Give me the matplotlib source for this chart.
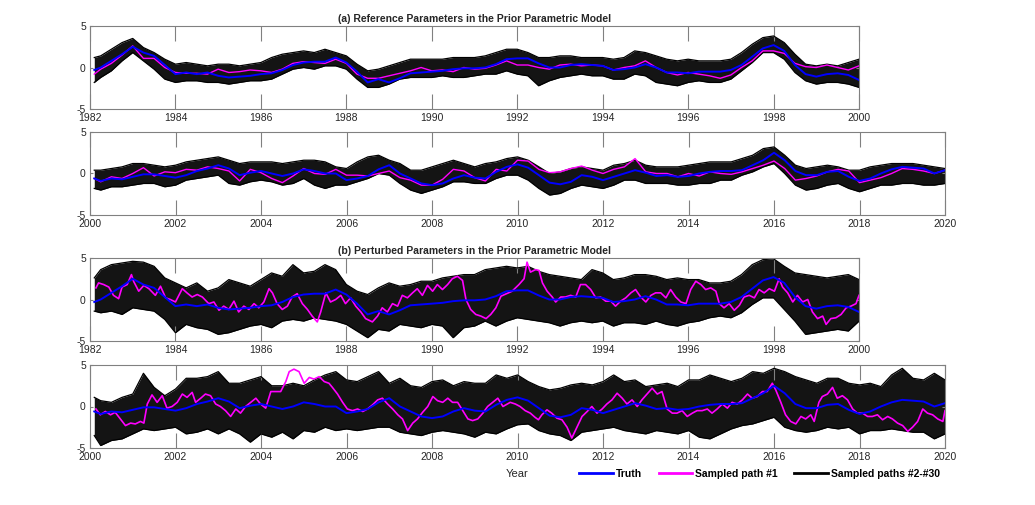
import numpy as np
import matplotlib
matplotlib.use("Agg")
import matplotlib.pyplot as plt
from matplotlib.lines import Line2D

plt.rcParams["font.family"] = ["Liberation Sans", "DejaVu Sans"]
plt.rcParams["axes.unicode_minus"] = False

# ---- time grids of the quarterly readings ----
t_q1 = np.r_[1982.1, np.arange(1982.25, 2000.001, 0.25)]
t_q2 = np.r_[2000.1, np.arange(2000.25, 2020.001, 0.25)]

# truth (same in both parts)
truth_1 = [-0.3, 0.0, 0.8, 1.6,   2.5, 1.8, 1.4, 0.3,   -0.8, -0.6, -0.8, -0.6,
           -1.0, -1.2, -1.1, -1.0, -0.8, -0.7, -0.3, 0.3,  0.6, 0.7, 0.7, 1.2,
           0.6, -0.5, -1.8, -1.4,  -1.8, -1.3, -0.7, -0.6, -0.5, -0.4, -0.2, -0.1,
           -0.1, 0.0, 0.4, 1.0,    1.1, 1.1, 0.5, 0.0,    0.0, 0.3, 0.4, 0.3,
           0.2, -0.3, -0.2, 0.0,   0.4, 0.0, -0.6, -0.6,  -0.7, -0.5, -0.5, -0.5,
           -0.3, 0.3, 1.3, 2.3,    2.7, 2.0, 0.3, -0.8,   -1.1, -0.8, -0.7, -0.9,
           -1.5]
truth_2 = [-0.6, -0.9, -0.6, -0.7, -0.4, -0.1, -0.1, -0.3, -0.5, -0.2, 0.3, 0.6,
           1.0, 0.6, -0.2, 0.1,    0.3, 0.0, -0.3, 0.0,    0.5, 0.3, 0.0, 0.0,
           -0.8, -0.6, -0.3, 0.5,  1.0, 0.0, -0.6, -1.2,  -1.4, -1.2, -0.6, -0.2,
           -0.5, -0.6, 0.2, 0.8,   1.1, 0.7, -0.2, -1.1,  -1.3, -1.0, -0.2, -0.4,
           -0.8, -0.4, 0.0, 0.4,   0.1, -0.3, -0.2, -0.4, -0.3, 0.0, 0.2, 0.3,
           0.3, 0.4, 1.0, 1.6,     2.5, 1.6, 0.3, -0.2,   -0.2, 0.2, 0.3, -0.4,
           -0.9, -0.6, 0.0, 0.5,   0.8, 0.7, 0.6, 0.0,    0.4]

# (a) sampled path #1
path1_a1 = [-0.8, -0.2, 0.5, 1.5,  2.6, 1.1, 1.1, 0.0,   -0.6, -0.7, -0.7, -0.8,
            -0.2, -0.6, -0.5, -0.3, -0.4, -0.6, -0.2, 0.5, 0.7, 0.6, 0.5, 1.0,
            0.5, -0.8, -1.3, -1.3, -1.0, -0.7, -0.4, 0.0, -0.4, -0.3, -0.5, 0.0,
            -0.2, -0.1, 0.3, 0.8,  0.3, 0.3, 0.0, -0.2,   0.3, 0.4, 0.2, 0.3,
            0.2, -0.3, 0.0, 0.2,   0.8, 0.0, -0.6, -0.9,  -0.6, -0.8, -1.0, -1.3,
            -0.9, 0.0, 0.8, 2.0,   2.0, 1.7, 0.5, 0.1,    0.0, 0.3, 0.0, -0.3,
            0.2]
path1_a2 = [-0.6, -1.0, -0.4, -0.6, 0.0, 0.7, -0.3, 0.2,  0.1, 0.5, 0.4, 0.8,
            0.6, 0.3, -0.9, 0.5,   0.1, -0.6, -1.1, -0.3, 0.6, 0.0, -0.1, 0.5,
            -0.2, -0.2, -0.3, 0.0, 0.3, -0.5, -0.8, -1.4, -1.4, -0.7, 0.5, 0.3,
            -0.5, -0.9, 0.5, 0.3,  1.6, 1.5, 0.5, 0.1,    0.2, 0.6, 0.9, 0.4,
            0.0, 0.5, 0.8, 1.8,    0.2, 0.0, 0.0, -0.4,   0.0, -0.3, 0.2, 0.0,
            -0.1, 0.2, 0.6, 1.0,   1.5, 0.6, -0.8, -0.6,  -0.3, 0.2, 0.5, 0.3,
            -1.1, -0.8, -0.5, 0.0, 0.6, 0.5, 0.3, 0.0,    0.4]

# (a) spread of sampled paths #2-#30 (upper / lower edge, quarterly)
hi_a1 = [1.2, 1.4, 2.2, 3.0,  3.5, 2.4, 1.8, 1.0,  0.4, 0.6, 0.4, 0.2,
         0.4, 0.4, 0.2, 0.4,  0.6, 1.2, 1.6, 1.8,  2.0, 1.8, 2.2, 1.8,
         1.4, 0.4, -0.4, -0.2, 0.2, 0.6, 1.0, 1.0, 1.0, 1.0, 1.2, 1.2,
         1.2, 1.4, 1.8, 2.2,  2.2, 1.8, 1.2, 1.2,  1.4, 1.4, 1.2, 1.2,
         1.2, 1.0, 1.2, 2.0,  1.8, 1.4, 1.0, 0.8,  1.0, 0.8, 0.8, 0.8,
         1.0, 1.8, 2.8, 3.6,  3.8, 3.0, 1.6, 0.4,  0.2, 0.4, 0.2, 0.6,
         1.0]
lo_a1 = [-1.8, -1.2, -0.4, 0.8, 1.8, 0.8, -0.2, -1.4, -1.8, -1.6, -1.6, -1.8,
         -1.8, -2.0, -1.8, -1.6, -1.6, -1.4, -0.8, -0.2, 0.0, -0.2, 0.2, 0.2,
         -0.2, -1.4, -2.4, -2.4, -2.0, -1.4, -1.2, -1.2, -1.2, -1.0, -1.2, -1.2,
         -1.0, -0.8, -0.8, -0.4, -0.8, -1.0, -2.2, -1.6, -1.2, -1.0, -0.8, -1.0,
         -1.0, -1.4, -1.4, -0.8, -1.0, -1.8, -2.0, -2.2, -1.8, -1.6, -1.8, -1.8,
         -1.4, -0.4, 0.6, 1.8,  1.8, 1.0, -0.6, -1.6, -2.0, -1.8, -1.8, -2.0,
         -2.4]
hi_a2 = [0.4, 0.4, 0.6, 0.8,  1.2, 1.2, 1.0, 0.8,  1.0, 1.4, 1.6, 1.8,
         2.0, 1.6, 1.2, 1.4,  1.4, 1.4, 1.2, 1.4,  1.6, 1.6, 1.4, 0.8,
         0.6, 1.4, 2.0, 2.2,  1.6, 1.2, 0.4, 0.4,  0.8, 1.2, 1.6, 1.2,
         0.8, 1.2, 1.4, 1.8,  2.0, 1.6, 0.8, 0.0,  0.2, 0.6, 0.8, 0.6,
         0.4, 1.0, 1.2, 1.6,  1.0, 0.8, 0.8, 0.8,  1.0, 1.2, 1.4, 1.4,
         1.4, 1.8, 2.2, 3.0,  3.2, 2.2, 1.0, 0.6,  0.8, 1.0, 0.8, 0.4,
         0.4, 0.8, 1.0, 1.2,  1.2, 1.2, 1.0, 0.8,  0.6]
lo_a2 = [-1.8, -2.0, -1.6, -1.6, -1.4, -1.2, -1.2, -1.6, -1.4, -0.8, -0.6, -0.4,
         -0.2, -1.2, -1.4, -1.0, -0.8, -1.0, -1.4, -1.2, -0.6, -1.4, -1.8, -1.4,
         -1.4, -1.0, -0.6, 0.0, -0.2, -1.2, -2.0, -2.4, -2.0, -1.6, -1.0, -1.0,
         -1.2, -1.2, -0.6, -0.2, -0.2, -0.8, -1.8, -2.6, -2.4, -1.8, -1.4, -1.6,
         -1.8, -1.4, -0.8, -0.8, -1.2, -1.2, -1.2, -1.4, -1.4, -1.2, -1.2, -0.8,
         -0.8, -0.2, 0.2, 0.8,  1.2, 0.0, -1.4, -2.0, -1.8, -1.4, -1.2, -1.8,
         -2.2, -1.8, -1.4, -1.4, -1.2, -1.2, -1.4, -1.4, -1.2]

# (b) sampled path #1
t_b1 = [1982.14, 1982.20, 1982.32, 1982.44, 1982.55, 1982.67, 1982.75, 1982.87,
        1982.97, 1983.02, 1983.14, 1983.26, 1983.38, 1983.53, 1983.65, 1983.77,
        1983.88, 1984.00, 1984.16, 1984.27, 1984.39, 1984.51, 1984.63, 1984.78,
        1984.90, 1985.02, 1985.13, 1985.25, 1985.37, 1985.48, 1985.60, 1985.72,
        1985.84, 1985.95, 1986.07, 1986.19, 1986.27, 1986.38, 1986.50, 1986.62,
        1986.73, 1986.85, 1986.97, 1987.09, 1987.20, 1987.32, 1987.40, 1987.52,
        1987.63, 1987.75, 1987.87, 1987.98, 1988.10, 1988.22, 1988.34, 1988.45,
        1988.61, 1988.73, 1988.84, 1988.96, 1989.08, 1989.20, 1989.31, 1989.43,
        1989.55, 1989.66, 1989.78, 1989.90, 1990.02, 1990.13, 1990.25, 1990.37,
        1990.48, 1990.60, 1990.72, 1990.80, 1990.91, 1991.03, 1991.15, 1991.27,
        1991.38, 1991.50, 1991.62, 1991.75, 1991.88, 1992.04, 1992.16, 1992.23,
        1992.31, 1992.43, 1992.51, 1992.59, 1992.70, 1992.82, 1992.90, 1993.02,
        1993.13, 1993.25, 1993.37, 1993.48, 1993.60, 1993.72, 1993.84, 1993.95,
        1994.07, 1994.19, 1994.30, 1994.42, 1994.54, 1994.66, 1994.77, 1994.89,
        1995.01, 1995.13, 1995.24, 1995.36, 1995.48, 1995.59, 1995.71, 1995.83,
        1995.95, 1996.06, 1996.18, 1996.30, 1996.41, 1996.53, 1996.65, 1996.73,
        1996.84, 1996.96, 1997.08, 1997.20, 1997.31, 1997.43, 1997.55, 1997.66,
        1997.78, 1997.90, 1998.02, 1998.13, 1998.21, 1998.33, 1998.45, 1998.56,
        1998.68, 1998.80, 1998.91, 1999.03, 1999.15, 1999.23, 1999.34, 1999.46,
        1999.58, 1999.70, 1999.81, 1999.93, 2000.00]
path1_b1 = [1.4, 2.0, 1.8, 1.5, 0.5, 0.1, 1.5, 1.8,
            3.0, 2.2, 1.0, 1.7, 1.3, 0.5, 1.6, 0.2,
            0.0, -0.3, 1.3, 0.8, 0.3, 0.6, 0.3, -0.5,
            -0.3, -1.3, -0.8, -1.2, -0.2, -1.5, -0.8, -1.2,
            -0.5, -1.0, -0.3, 1.3, 0.8, -0.5, -1.2, -0.8,
            0.3, 0.7, -0.5, -1.2, -2.0, -2.7, -1.5, 0.8,
            -0.3, 0.0, 0.5, -0.5, 0.2, -0.8, -1.5, -2.3,
            -2.7, -2.0, -1.0, -1.5, -0.5, -0.8, 0.5, 0.2,
            0.8, 1.3, 0.5, 1.7, 1.0, 1.8, 1.2, 1.8,
            2.5, 2.8, 2.3, 0.0, -1.2, -1.8, -2.0, -2.3,
            -1.8, -1.0, 0.4, 0.7, 1.0, 1.8, 2.5, 4.5,
            3.3, 3.6, 3.5, 2.0, 1.0, 0.3, -0.3, 0.3,
            0.3, 0.5, 0.3, 1.8, 1.8, 1.2, 0.2, 0.3,
            -0.2, -0.2, -0.8, -0.2, 0.2, 0.8, 1.2, 0.3,
            -0.3, 0.5, 0.8, 0.8, 0.2, 1.2, 0.3, -0.3,
            -0.5, 1.2, 2.2, 1.8, 1.2, 1.4, 1.0, -0.5,
            -1.0, -0.5, -1.3, -0.7, 0.3, 0.5, 0.2, 1.2,
            0.8, 1.3, 1.0, 2.5, 1.5, 0.8, -0.3, 0.5,
            -0.3, 0.0, -1.5, -2.3, -2.0, -3.0, -2.3, -2.2,
            -1.8, -1.0, -0.8, -0.5, 0.5]
t_b2 = [2000.14, 2000.24, 2000.36, 2000.48, 2000.59, 2000.71, 2000.83, 2000.95,
        2001.06, 2001.18, 2001.26, 2001.34, 2001.45, 2001.57, 2001.69, 2001.80,
        2001.92, 2002.04, 2002.16, 2002.27, 2002.39, 2002.47, 2002.59, 2002.70,
        2002.82, 2002.94, 2003.05, 2003.17, 2003.29, 2003.41, 2003.52, 2003.64,
        2003.76, 2003.88, 2003.99, 2004.11, 2004.23, 2004.34, 2004.46, 2004.58,
        2004.66, 2004.77, 2004.89, 2005.01, 2005.13, 2005.24, 2005.36, 2005.48,
        2005.59, 2005.67, 2005.79, 2005.91, 2006.02, 2006.14, 2006.26, 2006.38,
        2006.49, 2006.61, 2006.73, 2006.84, 2006.96, 2007.08, 2007.20, 2007.31,
        2007.43, 2007.55, 2007.66, 2007.78, 2007.90, 2008.02, 2008.13, 2008.25,
        2008.37, 2008.48, 2008.60, 2008.72, 2008.84, 2008.95, 2009.07, 2009.19,
        2009.30, 2009.42, 2009.54, 2009.66, 2009.83, 2009.95, 2010.06, 2010.18,
        2010.30, 2010.41, 2010.49, 2010.57, 2010.69, 2010.80, 2010.92, 2011.04,
        2011.16, 2011.27, 2011.39, 2011.51, 2011.63, 2011.74, 2011.86, 2011.98,
        2012.09, 2012.21, 2012.33, 2012.45, 2012.56, 2012.68, 2012.80, 2012.91,
        2013.03, 2013.15, 2013.27, 2013.38, 2013.50, 2013.62, 2013.73, 2013.85,
        2013.97, 2014.09, 2014.20, 2014.32, 2014.44, 2014.55, 2014.67, 2014.79,
        2014.91, 2015.02, 2015.14, 2015.26, 2015.38, 2015.49, 2015.61, 2015.73,
        2015.84, 2015.96, 2016.04, 2016.16, 2016.27, 2016.39, 2016.51, 2016.63,
        2016.74, 2016.86, 2016.94, 2017.05, 2017.13, 2017.25, 2017.37, 2017.48,
        2017.60, 2017.72, 2017.84, 2017.95, 2018.07, 2018.19, 2018.30, 2018.42,
        2018.54, 2018.66, 2018.77, 2018.89, 2019.01, 2019.13, 2019.24, 2019.36,
        2019.48, 2019.59, 2019.71, 2019.83, 2019.95, 2020.00]
path1_b2 = [-0.3, -1.0, -0.6, -1.0, -0.7, -1.5, -2.3, -2.0,
            -2.1, -1.8, -2.0, 0.3, 1.4, 0.5, 1.3, -0.2,
            0.0, 0.5, 1.5, 1.1, 1.7, 0.5, 1.0, 1.5,
            1.3, 0.3, 0.0, -0.5, -1.2, -0.3, -0.8, 0.0,
            0.5, 1.0, 0.3, -0.2, 1.8, 1.8, 1.8, 3.0,
            4.2, 4.5, 4.2, 2.8, 3.5, 3.3, 3.6, 3.0,
            2.8, 2.3, 1.5, 0.5, -0.3, -0.5, -0.3, -0.6,
            -0.3, 0.2, 0.8, 1.0, 0.3, -0.3, -1.0, -1.5,
            -2.9, -2.0, -1.5, -0.7, 0.0, 1.2, 0.7, 0.5,
            1.0, 0.5, 0.5, -0.5, -1.5, -1.7, -1.5, -0.8,
            0.0, 0.5, 1.0, 0.0, 0.5, 0.3, 0.0, -0.5,
            -0.8, -1.3, -1.6, -1.0, -0.4, -0.8, -1.4, -1.6,
            -2.5, -3.8, -2.5, -1.2, -0.6, 0.0, -0.8, -0.3,
            0.3, 0.8, 1.6, 1.0, 0.3, 0.8, 0.0, 0.8,
            1.5, 2.2, 1.5, 1.8, -0.3, -0.8, -0.8, -0.5,
            -1.2, -0.8, -0.5, -0.5, -0.3, -0.8, -0.3, 0.3,
            -0.2, 0.5, 0.3, 0.8, 1.5, 1.0, 1.2, 1.8,
            1.8, 2.8, 2.0, 0.5, -1.0, -1.8, -2.1, -1.2,
            -1.5, -1.0, -1.8, 0.5, 1.2, 1.5, 2.3, 1.0,
            1.3, 0.8, -0.3, -0.8, -0.8, -1.2, -1.2, -1.0,
            -1.6, -1.2, -1.5, -2.0, -2.3, -3.0, -2.5, -1.8,
            -0.3, -0.8, -1.0, -1.5, -1.8, -0.5]

# (b) spread of sampled paths #2-#30 (upper / lower edge, quarterly)
hi_b1 = [2.6, 3.6, 4.2, 4.4,  4.6, 4.5, 4.0, 2.6,  2.0, 1.4, 2.0, 1.0,
         1.4, 2.4, 2.0, 1.6,  2.4, 3.2, 2.8, 4.2,  3.2, 3.4, 4.2, 3.6,
         1.8, 1.0, 0.6, 1.4,  2.0, 1.6, 1.8, 2.2,  2.2, 2.6, 2.8, 3.0,
         3.0, 3.6, 3.8, 4.0,  3.8, 4.0, 3.4, 3.0,  2.8, 2.6, 2.4, 3.6,
         3.2, 2.4, 2.6, 3.0,  3.0, 2.8, 2.4, 2.6,  2.4, 2.4, 2.0, 2.0,
         2.2, 3.0, 4.2, 4.8,  4.9, 4.0, 3.2, 3.0,  2.8, 2.6, 2.8, 3.0,
         2.4]
lo_b1 = [-1.4, -1.6, -1.4, -1.8, -1.0, -1.2, -1.4, -2.4, -4.0, -3.0, -3.4, -3.6,
         -4.2, -4.0, -3.6, -3.2, -3.0, -3.4, -2.6, -2.4, -2.6, -2.2, -2.4, -2.6,
         -3.0, -3.8, -4.6, -3.6, -3.8, -3.0, -3.2, -3.4, -3.0, -3.2, -4.6, -3.4,
         -3.2, -2.6, -3.2, -2.6, -2.2, -2.4, -2.6, -2.8, -3.2, -2.8, -2.6, -2.8,
         -2.6, -3.2, -2.8, -2.8, -3.0, -2.6, -3.0, -3.2, -2.8, -2.6, -2.2, -2.0,
         -2.2, -1.6, -0.6, 0.2,  0.2, -1.2, -2.6, -4.2, -4.0, -3.8, -3.6, -3.8,
         -2.6]
hi_b2 = [1.1, 0.7, 0.5, 1.1,  1.5, 4.0, 2.3, 1.3,  2.1, 3.4, 3.4, 3.6,
         4.2, 2.8, 2.8, 3.2,  3.6, 2.5, 2.5, 2.8,  2.5, 3.2, 3.8, 4.2,
         3.2, 3.0, 3.6, 4.2,  2.8, 3.4, 2.5, 2.3,  3.0, 3.2, 2.5, 3.0,
         2.8, 2.8, 3.8, 3.4,  3.8, 3.0, 2.4, 2.0,  2.2, 2.6, 2.8, 2.6,
         3.0, 3.8, 3.0, 3.2,  2.4, 2.6, 2.8, 2.4,  3.2, 3.2, 3.8, 3.4,
         3.0, 3.4, 4.2, 4.0,  4.6, 4.2, 3.6, 3.2,  2.8, 3.4, 3.4, 2.8,
         2.6, 2.8, 2.4, 3.8,  4.6, 3.4, 3.2, 4.0,  3.2]
lo_b2 = [-3.5, -4.7, -4.1, -3.9, -3.3, -2.7, -2.9, -2.7, -2.5, -3.3, -3.1, -2.7,
         -3.3, -2.7, -3.3, -4.3, -3.3, -3.7, -3.1, -3.9, -2.9, -3.1, -2.5, -2.9,
         -2.7, -2.9, -2.7, -2.5, -2.5, -3.1, -3.3, -3.5, -3.1, -2.9, -3.1, -3.3,
         -3.7, -3.1, -3.3, -2.7, -2.2, -2.1, -2.9, -3.3, -3.5, -4.1, -3.1, -2.9,
         -2.7, -2.5, -2.9, -3.1, -3.3, -2.9, -3.1, -3.3, -2.9, -3.7, -3.9, -3.3,
         -2.7, -2.3, -2.1, -1.7, -1.3, -2.5, -2.9, -3.1, -2.9, -2.5, -2.7, -2.5,
         -3.3, -2.9, -2.9, -2.7, -2.9, -3.1, -3.1, -3.9, -3.3]

W, H = 1035, 505
fig = plt.figure(figsize=(W / 100, H / 100), dpi=100)
GRAY = "#808080"
TXT = "#262626"


def panel(top_px, right_px, xlim, t_q, truth, t_p, path, hi, lo, lw_p):
    ax = fig.add_axes([90 / W, 1 - (top_px + 83) / H, (right_px - 90) / W, 83 / H])
    ax.fill_between(t_q, lo, hi, color="black", lw=0, alpha=0.92)
    ax.plot(t_q, hi, color="black", lw=0.9)
    ax.plot(t_q, lo, color="black", lw=0.9)
    ax.plot(t_p, path, color="#ff00ff", lw=lw_p)
    ax.plot(t_q, truth, color="#0000ff", lw=1.4)
    ax.set_xlim(*xlim)
    ax.set_ylim(-5, 5)
    ax.set_yticks([-5, 0, 5])
    ax.set_xticks(np.arange(xlim[0], xlim[1] + 1, 2))
    ax.tick_params(axis="x", direction="in", length=11, width=0.8, color=GRAY,
                   top=True, labelsize=7.5, labelcolor=TXT, pad=3)
    ax.tick_params(axis="y", direction="in", length=2, width=0.8, color=GRAY,
                   right=True, labelsize=7.5, labelcolor=TXT, pad=3)
    for s in ax.spines.values():
        s.set_color(GRAY)
        s.set_linewidth(0.8)
    return ax


ax1 = panel(26, 859, (1982, 2000), t_q1, truth_1, t_q1, path1_a1, hi_a1, lo_a1, 1.0)
ax1.set_title("(a) Reference Parameters in the Prior Parametric Model",
              fontsize=7.5, fontweight="bold", color=TXT, pad=3)
panel(132, 945, (2000, 2020), t_q2, truth_2, t_q2, path1_a2, hi_a2, lo_a2, 1.0)
ax3 = panel(258, 859, (1982, 2000), t_q1, truth_1, t_b1, path1_b1, hi_b1, lo_b1, 1.2)
ax3.set_title("(b) Perturbed Parameters in the Prior Parametric Model",
              fontsize=7.5, fontweight="bold", color=TXT, pad=3)
ax4 = panel(365, 945, (2000, 2020), t_q2, truth_2, t_b2, path1_b2, hi_b2, lo_b2, 1.2)
ax4.set_xlabel("Year", fontsize=8, color=TXT, labelpad=5)

handles = [Line2D([], [], color="#0000ff", lw=2),
           Line2D([], [], color="#ff00ff", lw=2),
           Line2D([], [], color="black", lw=2)]
fig.legend(handles, ["Truth", "Sampled path #1", "Sampled paths #2-#30"],
           loc="center left", bbox_to_anchor=(570 / W, 1 - 474 / H), ncol=3,
           frameon=False, handlelength=3.2, handletextpad=0.3, columnspacing=1.6,
           prop={"weight": "bold", "size": 7.5})

fig.savefig("out.png", dpi=100, facecolor="white")
